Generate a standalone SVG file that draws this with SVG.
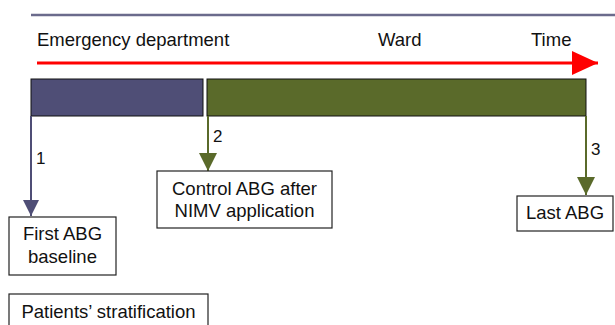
<svg xmlns="http://www.w3.org/2000/svg" width="615" height="325" viewBox="0 0 615 325">
<style>
text{font-family:"Liberation Sans",Arial,sans-serif;font-size:18.5px;fill:#111}
.box{fill:#fff;stroke:#222;stroke-width:1.2}
.num{font-size:17px}
</style>
<defs>
<marker id="ap" markerWidth="16" markerHeight="16" viewBox="0 0 16 16" refX="16" refY="8" orient="auto" markerUnits="userSpaceOnUse"><path d="M0,0 L16,8 L0,16 Z" fill="#4f4e76"/></marker>
<marker id="ag" markerWidth="18" markerHeight="18" viewBox="0 0 18 18" refX="18" refY="9" orient="auto" markerUnits="userSpaceOnUse"><path d="M0,0 L18,9 L0,18 Z" fill="#5a6a2a"/></marker>
<marker id="ar" markerWidth="26" markerHeight="24" viewBox="0 0 26 24" refX="26" refY="12" orient="auto" markerUnits="userSpaceOnUse"><path d="M0,0 L26,12 L0,24 Z" fill="#f00"/></marker>
</defs>
<line x1="31" y1="15" x2="615" y2="15" stroke="#6b6b8c" stroke-width="2.5"/>
<g id="header">
<text x="37" y="46">Emergency department</text>
<text x="378" y="46">Ward</text>
<text x="531" y="46">Time</text>
</g>
<g id="timeline">
<line x1="37" y1="63" x2="598" y2="63" stroke="#f00" stroke-width="3" marker-end="url(#ar)"/>
<rect x="31" y="79" width="172" height="37" fill="#4f4e76" stroke="#111" stroke-width="1"/>
<rect x="207" y="79" width="379" height="37" fill="#5a6a2a" stroke="#111" stroke-width="1"/>
</g>
<g id="connectors">
<line x1="31" y1="116" x2="31" y2="216" stroke="#4f4e76" stroke-width="2" marker-end="url(#ap)"/>
<line x1="208" y1="116" x2="208" y2="171" stroke="#5a6a2a" stroke-width="2" marker-end="url(#ag)"/>
<line x1="586" y1="116" x2="586" y2="195" stroke="#5a6a2a" stroke-width="2" marker-end="url(#ag)"/>
<text class="num" x="36" y="164">1</text>
<text class="num" x="213" y="142">2</text>
<text class="num" x="591" y="155">3</text>
</g>
<g id="first">
<rect class="box" x="9" y="217" width="107" height="58"/>
<text x="62.5" y="240" text-anchor="middle">First ABG</text>
<text x="62.5" y="263" text-anchor="middle">baseline</text>
</g>
<g id="control">
<rect class="box" x="157" y="171" width="175" height="57"/>
<text x="244.5" y="195" text-anchor="middle">Control ABG after</text>
<text x="244.5" y="217" text-anchor="middle">NIMV application</text>
</g>
<g id="last">
<rect class="box" x="517" y="196" width="96" height="35"/>
<text x="565" y="219" text-anchor="middle">Last ABG</text>
</g>
<g id="strat">
<rect class="box" x="9" y="294" width="199" height="40"/>
<text x="108.5" y="318" text-anchor="middle">Patients’ stratification</text>
</g>
</svg>
